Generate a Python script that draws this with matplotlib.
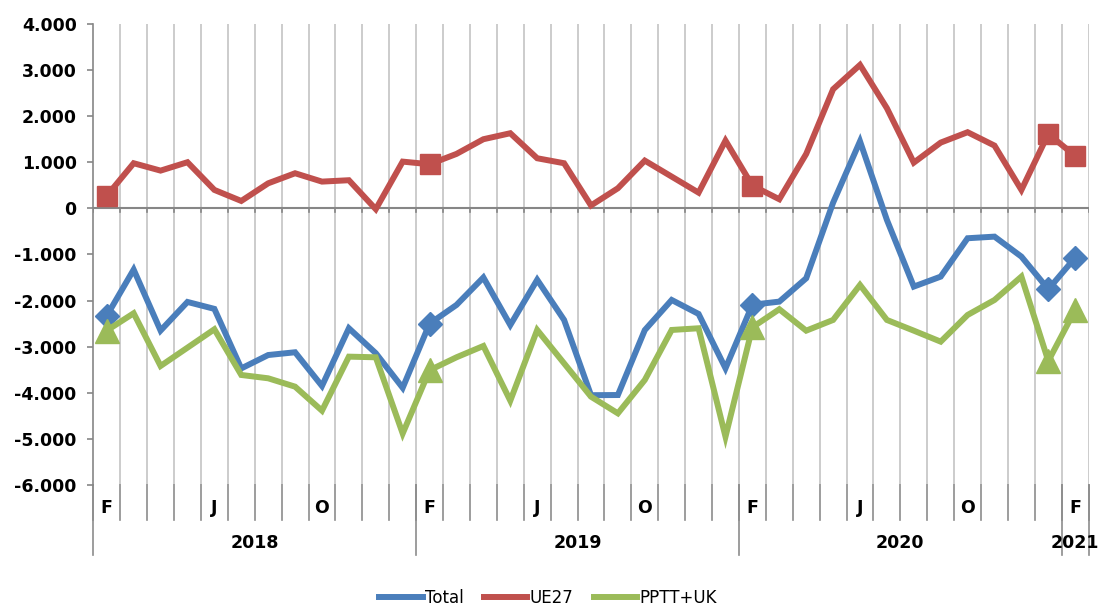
import matplotlib
matplotlib.use("Agg")
import matplotlib.pyplot as plt
import matplotlib.transforms as mtransforms
import numpy as np

# monthly series, Feb 2018 .. Feb 2021
total = [-2330, -1330, -2650, -2030, -2180, -3470, -3180, -3120, -3850, -2600, -3140, -3890,
         -2500, -2095, -1500, -2530, -1550, -2420, -4050, -4046, -2640, -1987, -2290, -3467,
         -2090, -2023, -1517, 120, 1450, -253, -1697, -1481, -650, -615, -1048, -1755, -1070]
ue27 = [270, 975, 815, 997, 397, 158, 540, 758, 577, 607, -20, 1010,
        953, 1177, 1495, 1625, 1083, 975, 60, 433, 1032, 685, 338, 1465,
        490, 195, 1177, 2578, 3105, 2167, 988, 1422, 1647, 1357, 397, 1610, 1133]
pptt_uk = [-2650, -2275, -3417, -3020, -2622, -3612, -3684, -3865, -4385, -3215, -3229, -4880,
           -3510, -3229, -2984, -4169, -2637, -3360, -4082, -4443, -3720, -2637, -2600, -4949,
           -2580, -2188, -2652, -2420, -1662, -2420, -2652, -2890, -2312, -1987, -1481, -3310, -2203]

month_labels = ['F', '', '', '', 'J', '', '', '', 'O', '', '', '',
                'F', '', '', '', 'J', '', '', '', 'O', '', '', '',
                'F', '', '', '', 'J', '', '', '', 'O', '', '', '',
                'F']
years = ['2018', '2019', '2020', '2021']
year_start = [0, 12, 24, 36]
year_len = [12, 12, 12, 1]
marked = [0, 12, 24, 35, 36]   # points that carry a marker

blue = '#4a7ebb'
red = '#c0504d'
green = '#9bbb59'

n = len(total)
x = np.arange(n) + 0.5

fig = plt.figure(figsize=(11.03, 6.05), dpi=100)
ax = fig.add_axes([0.0846, 0.198, 0.9024, 0.763])

for b in range(1, n + 1):
    ax.axvline(b, color='#c4c4c4', lw=1.2, zorder=1)
ax.axhline(0, color='#868686', lw=1.5, zorder=2)
for b in range(0, n + 1):
    ax.plot([b, b], [0, -90], color='#868686', lw=1.2, zorder=2)

series = [(total, blue, 'Total', 'D', 12), (ue27, red, 'UE27', 's', 14.5), (pptt_uk, green, 'PPTT+UK', '^', 17)]
for z, (vals, col, lab, mk, ms) in enumerate(series):
    vals = np.array(vals)
    ax.plot(x, vals, color=col, lw=4.3, label=lab, zorder=3 + z, solid_joinstyle='miter')
    ax.plot(x[marked], vals[marked], ls='none', marker=mk, ms=ms, color=col,
            mec=col, zorder=3 + z, label='_nolegend_')

ax.set_xlim(0, n)
ax.set_ylim(-6000, 4000)
yt = np.arange(-6000, 4001, 1000)
ax.set_yticks(yt)
ax.set_yticklabels([f"{v:,.0f}".replace(',', '.') for v in yt], fontsize=12.5, fontweight='bold')
ax.tick_params(axis='y', direction='out', length=4, color='#868686', width=1.2, pad=8)
ax.set_xticks([])

for s in ['top', 'right', 'bottom']:
    ax.spines[s].set_visible(False)
ax.spines['left'].set_color('#868686')
ax.spines['left'].set_linewidth(1.2)

trans = mtransforms.blended_transform_factory(ax.transData, ax.transAxes)
for b in range(0, n + 1):
    ax.plot([b, b], [0, -0.076], color='#8c8c8c', lw=1.2, transform=trans, clip_on=False)
for b in year_start + [n]:
    ax.plot([b, b], [0, -0.152], color='#8c8c8c', lw=1.2, transform=trans, clip_on=False)

for xi, lab in zip(x, month_labels):
    if lab:
        ax.text(xi, -0.049, lab, transform=trans, ha='center', va='center',
                fontsize=12.5, fontweight='bold')
for yr, st, ln in zip(years, year_start, year_len):
    ax.text(st + ln / 2, -0.125, yr, transform=trans, ha='center', va='center',
            fontsize=12.5, fontweight='bold')

fig.legend(loc='center', bbox_to_anchor=(0.497, 0.012), ncol=3, frameon=False,
           fontsize=12, handlelength=2.6, handletextpad=0.15, columnspacing=1.2)

fig.savefig('out.png', dpi=100)
